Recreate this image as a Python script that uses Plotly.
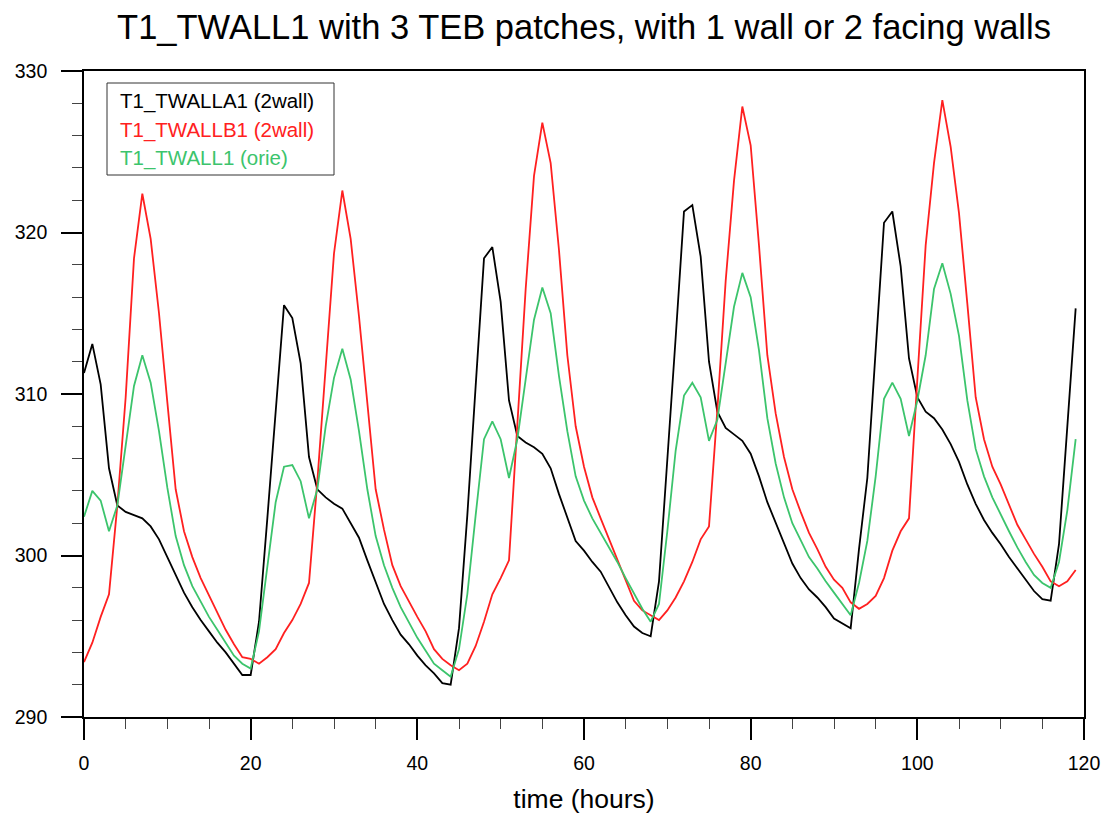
import plotly.graph_objects as go

hours = list(range(120))

twalla1 = [
    311.3, 313.1, 310.6, 305.4, 303.1, 302.7, 302.5, 302.3, 301.8, 301.0,
    299.9, 298.8, 297.7, 296.8, 296.0, 295.3, 294.6, 294.0, 293.3, 292.6,
    292.6, 295.9, 302.3, 308.8, 315.5, 314.7, 311.9, 306.1, 304.1, 303.6,
    303.2, 302.9, 302.0, 301.1, 299.7, 298.3, 297.0, 296.0, 295.1, 294.5,
    293.8, 293.2, 292.7, 292.1, 292.0, 295.5, 302.5, 310.5, 318.4, 319.1,
    315.7, 309.6, 307.4, 307.0, 306.7, 306.3, 305.4, 303.8, 302.3, 300.9,
    300.3, 299.6, 299.0, 298.0, 297.1, 296.3, 295.6, 295.2, 295.0, 298.4,
    305.7, 313.5, 321.3, 321.7, 318.5, 312.0, 308.9, 307.9, 307.5, 307.1,
    306.3, 304.9, 303.3, 302.0, 300.7, 299.5, 298.6, 297.9, 297.4, 296.8,
    296.1, 295.8, 295.5, 300.4, 304.8, 312.7, 320.6, 321.3, 317.9, 312.2,
    309.8, 308.9, 308.5, 307.8, 306.9, 305.8, 304.4, 303.2, 302.2, 301.4,
    300.7, 299.9, 299.2, 298.5, 297.8, 297.3, 297.2, 300.7, 307.8, 315.3,
]

twallb1 = [
    293.4, 294.6, 296.2, 297.6, 303.1, 309.8, 318.4, 322.4, 319.6, 315.0,
    309.5, 304.1, 301.5, 299.9, 298.6, 297.5, 296.4, 295.4, 294.5, 293.7,
    293.6, 293.3, 293.7, 294.2, 295.2, 296.0, 297.0, 298.3, 304.6, 311.9,
    318.7, 322.6, 319.6, 314.8, 309.6, 304.1, 301.6, 299.4, 298.1, 297.1,
    296.2, 295.3, 294.2, 293.6, 293.2, 292.9, 293.3, 294.4, 295.9, 297.6,
    298.6, 299.7, 308.0, 316.5, 323.5, 326.8, 324.3, 318.9, 312.4, 308.0,
    305.5, 303.6, 302.3, 301.0, 299.7, 298.4, 297.2, 296.6, 296.3, 296.0,
    296.6, 297.4, 298.4, 299.6, 301.0, 301.8, 309.0, 317.0, 323.2, 327.8,
    325.4, 319.2, 312.4, 308.8, 306.1, 304.1, 302.7, 301.4, 300.4, 299.3,
    298.5, 298.0, 297.1, 296.7, 297.0, 297.5, 298.6, 300.3, 301.5, 302.3,
    310.9, 319.2, 324.3, 328.2, 325.3, 321.2, 315.6, 309.8, 307.2, 305.5,
    304.4, 303.1, 301.9, 301.0, 300.1, 299.3, 298.4, 298.1, 298.4, 299.1,
]

twall1 = [
    302.4, 304.0, 303.4, 301.5, 303.1, 306.7, 310.5, 312.4, 310.7, 307.7,
    304.2, 301.2, 299.4, 298.1, 297.1, 296.2, 295.4, 294.6, 293.8, 293.3,
    293.0, 295.3, 299.4, 303.3, 305.5, 305.6, 304.6, 302.3, 304.1, 308.0,
    311.0, 312.8, 310.9, 307.7, 304.1, 301.2, 299.4, 298.0, 296.8, 295.8,
    294.9, 294.1, 293.3, 292.9, 292.5, 294.2, 297.6, 302.5, 307.2, 308.3,
    307.2, 304.8, 307.2, 310.9, 314.6, 316.6, 315.0, 311.1, 307.7, 304.9,
    303.4, 302.3, 301.4, 300.5, 299.6, 298.6, 297.6, 296.7, 295.9, 297.0,
    301.5, 306.5, 309.9, 310.7, 309.8, 307.1, 308.4, 311.8, 315.4, 317.5,
    316.0, 312.7, 308.5, 305.7, 303.6, 302.0, 301.0, 299.9, 299.2, 298.4,
    297.7, 297.0, 296.3, 298.3, 300.9, 304.9, 309.7, 310.7, 309.7, 307.4,
    309.6, 312.4, 316.5, 318.1, 316.2, 313.6, 309.6, 306.6, 304.9, 303.6,
    302.5, 301.5, 300.5, 299.6, 298.8, 298.3, 298.0, 299.6, 302.8, 307.2,
]

series_names = ["T1_TWALLA1 (2wall)", "T1_TWALLB1 (2wall)", "T1_TWALL1 (orie)"]
series_colors = ["#000000", "#ff2020", "#3cc46c"]
x_ticks = [0, 20, 40, 60, 80, 100, 120]
y_ticks = [290, 300, 310, 320, 330]

FONT = "Liberation Sans, Arial, Helvetica, sans-serif"

# plot-area geometry in pixels (for paper-coordinate placement)
L, R, T, B = 84, 1084, 71, 717
PW, PH = R - L, B - T

fig = go.Figure()
for name, vals, col in zip(series_names, [twalla1, twallb1, twall1], series_colors):
    fig.add_trace(go.Scatter(x=hours, y=vals, mode="lines", name=name,
                             line=dict(color=col, width=1.8), showlegend=False,
                             hoverinfo="skip"))

# legend box with coloured text (NCL style)
fig.add_shape(type="rect", xref="paper", yref="paper",
              x0=(107 - L) / PW, x1=(334 - L) / PW,
              y0=(B - 175) / PH, y1=(B - 83) / PH,
              line=dict(color="#333333", width=1), fillcolor="white", layer="above")
for i, (name, col) in enumerate(zip(series_names, series_colors)):
    fig.add_annotation(text=name, xref="paper", yref="paper",
                       x=(118 - L) / PW, y=(B - (101 + 28.5 * i)) / PH,
                       xanchor="left", yanchor="middle", showarrow=False,
                       font=dict(family=FONT, size=20.5, color=col))

axis_common = dict(
    showgrid=False, zeroline=False, showline=True, linecolor="black", linewidth=1.6,
    mirror=True, ticks="outside", ticklen=21, tickwidth=1.6, tickcolor="black",
    tickfont=dict(family=FONT, size=19.5, color="black"), automargin=False,
)

fig.update_xaxes(range=[0, 120], tickvals=x_ticks, ticklabelstandoff=7,
                 minor=dict(dtick=5, ticks="outside", ticklen=10, tickwidth=1, tickcolor="#444444"),
                 title=dict(text="time (hours)", font=dict(family=FONT, size=26.5, color="black"), standoff=17),
                 **axis_common)
fig.update_yaxes(range=[290, 330], tickvals=y_ticks, ticklabelstandoff=10,
                 minor=dict(dtick=2, ticks="outside", ticklen=10, tickwidth=1, tickcolor="#444444"),
                 **axis_common)

fig.update_layout(
    width=1107, height=814,
    margin=dict(l=L, r=1107 - R, t=T, b=814 - B, autoexpand=False),
    paper_bgcolor="white", plot_bgcolor="white",
    hovermode=False,
    title=dict(text="T1_TWALL1 with 3 TEB patches, with 1 wall or 2 facing walls",
               x=0.5, xref="paper", y=1 - 27 / 814, yref="container", yanchor="middle",
               xanchor="center", font=dict(family=FONT, size=34.5, color="black")),
)

fig.write_html("out.html", config={"displayModeBar": False},
               post_script="document.body.style.margin='0';document.body.style.overflow='hidden';")
